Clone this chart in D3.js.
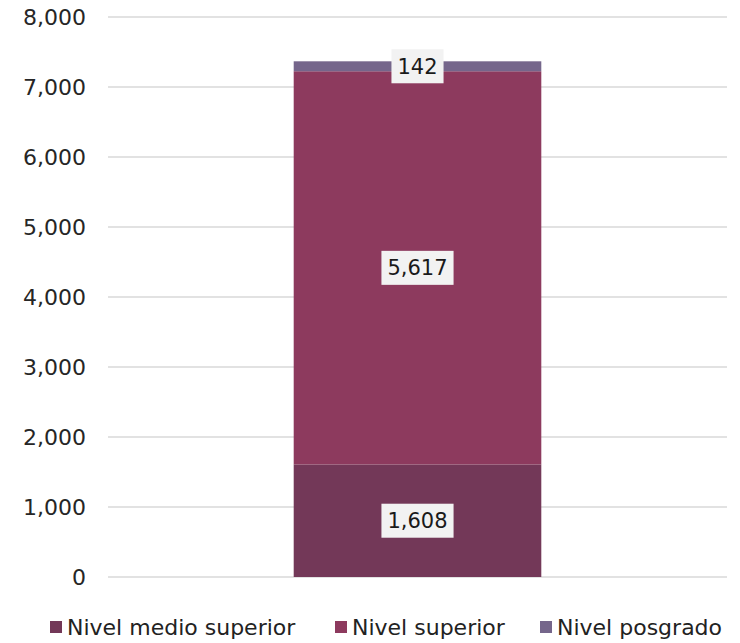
<!DOCTYPE html>
<html>
<head>
<meta charset="utf-8">
<script src="https://cdn.jsdelivr.net/npm/d3@7"></script>
<style>
  body { margin: 0; background: #fff; }
  svg { display: block; font-family: "DejaVu Sans", "Noto Sans", sans-serif; }
</style>
</head>
<body>
<div id="chart"></div>
<script>
"use strict";

// data
var categories = ['Total'];
var seriesNames = ['Nivel medio superior', 'Nivel superior', 'Nivel posgrado'];
var seriesValues = [1608, 5617, 142];
var seriesColors = ['#733858', '#8d3a5e', '#75668b'];
var yTicks = [0, 1000, 2000, 3000, 4000, 5000, 6000, 7000, 8000];

var WIDTH = 740;
var HEIGHT = 643;
var margin = { top: 17, right: 13, bottom: 66, left: 108 };
var innerW = WIDTH - margin.left - margin.right;
var innerH = HEIGHT - margin.top - margin.bottom;

var svg = d3.select('#chart').append('svg')
  .attr('width', WIDTH)
  .attr('height', HEIGHT);

var g = svg.append('g').attr('transform', 'translate(' + margin.left + ',' + margin.top + ')');

var x = d3.scaleBand().domain(categories).range([0, innerW]).paddingInner(0.6).paddingOuter(0.3);
var y = d3.scaleLinear().domain([0, 8000]).range([innerH, 0]);

// grid lines
g.append('g').selectAll('line')
  .data(yTicks).enter().append('line')
  .attr('x1', 0).attr('x2', innerW)
  .attr('y1', function (d) { return y(d); })
  .attr('y2', function (d) { return y(d); })
  .attr('stroke', '#d9d9d9')
  .attr('stroke-width', 1.3);

// y axis
var yAxis = g.append('g').call(d3.axisLeft(y).tickValues(yTicks).tickSize(0).tickPadding(22)
  .tickFormat(d3.format(',')));
yAxis.select('.domain').remove();
yAxis.selectAll('text').attr('font-size', 22).attr('fill', '#262626').attr('font-family', '"DejaVu Sans", sans-serif');

// stack
var row = { cat: categories[0] };
seriesNames.forEach(function (n, i) { row[n] = seriesValues[i]; });
var stacked = d3.stack().keys(seriesNames)([row]);

var layers = g.append('g').selectAll('g')
  .data(stacked).enter().append('g')
  .attr('fill', function (d, i) { return seriesColors[i]; });

layers.selectAll('rect')
  .data(function (d) { return d; }).enter().append('rect')
  .attr('x', function (d) { return x(d.data.cat); })
  .attr('y', function (d) { return y(d[1]); })
  .attr('height', function (d) { return y(d[0]) - y(d[1]); })
  .attr('width', x.bandwidth());

// value labels with boxes
var labels = g.append('g');
stacked.forEach(function (layer) {
  var d = layer[0];
  var cx = x(d.data.cat) + x.bandwidth() / 2;
  var cy = (y(d[0]) + y(d[1])) / 2;
  var lg = labels.append('g').attr('transform', 'translate(' + cx + ',' + cy + ')');
  var t = lg.append('text')
    .attr('text-anchor', 'middle')
    .attr('dy', '0.36em')
    .attr('font-size', 21)
    .attr('fill', '#1a1a1a')
    .text(d3.format(',')(d[1] - d[0]));
  var bb = t.node().getBBox();
  lg.insert('rect', 'text')
    .attr('x', bb.x - 6).attr('y', -17)
    .attr('width', bb.width + 12).attr('height', 34)
    .attr('fill', '#f2f2f2');
});

// legend
var legendItems = [
  { x: 50, name: seriesNames[0], color: seriesColors[0] },
  { x: 335, name: seriesNames[1], color: seriesColors[1] },
  { x: 540, name: seriesNames[2], color: seriesColors[2] }
];
var legend = svg.append('g').attr('transform', 'translate(0, 627)');
legendItems.forEach(function (it) {
  legend.append('rect')
    .attr('x', it.x).attr('y', -6)
    .attr('width', 12).attr('height', 12)
    .attr('fill', it.color);
  legend.append('text')
    .attr('x', it.x + 17).attr('dy', '0.36em')
    .attr('font-size', 22)
    .attr('fill', '#222')
    .text(it.name);
});
</script>
</body>
</html>
